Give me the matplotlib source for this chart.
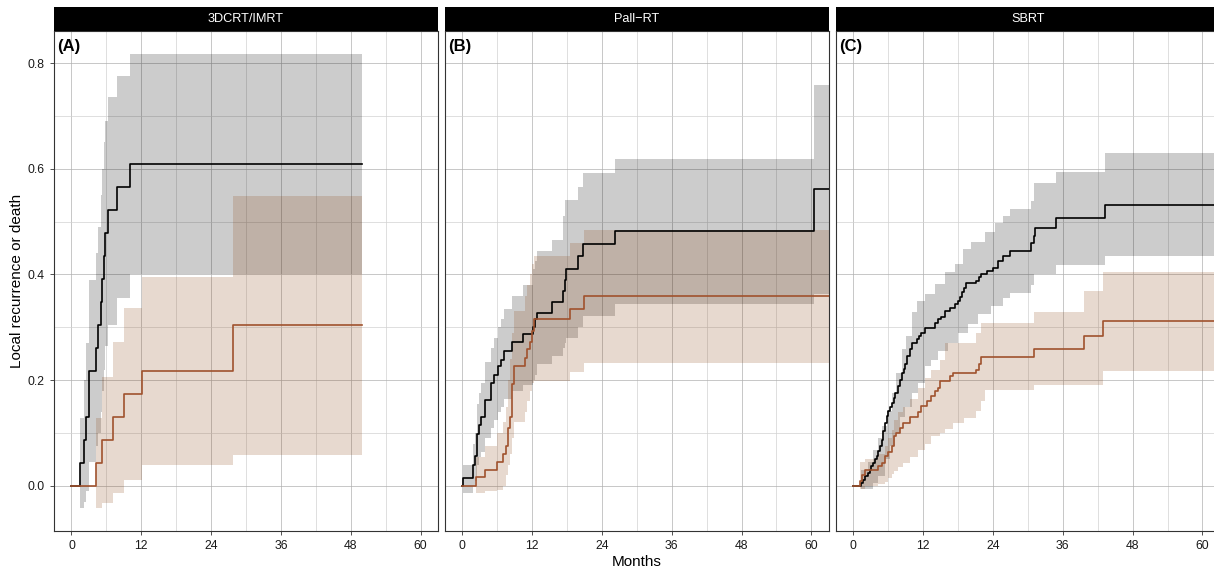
import numpy as np
import matplotlib
matplotlib.use("Agg")
import matplotlib.pyplot as plt

plt.rcParams['font.family'] = ['Liberation Sans', 'DejaVu Sans']

panels = ["3DCRT/IMRT", "Pall\u2212RT", "SBRT"]
tags = ["(A)", "(B)", "(C)"]
x_ticks = [0, 12, 24, 36, 48, 60]
y_ticks = [0.0, 0.2, 0.4, 0.6, 0.8]
y_tick_labels = ["0.0", "0.2", "0.4", "0.6", "0.8"]

# ---- panel A: 3DCRT/IMRT (curves stop at 50 months)
a_end = 50
a_t_black = [0, 1.55, 2.1, 2.5, 3.0, 4.2, 4.5, 5.0, 5.3, 5.6, 5.85, 6.25, 7.85, 10.1]
a_y_black = [0, 0.043, 0.087, 0.130, 0.217, 0.261, 0.304, 0.348, 0.391, 0.435, 0.478, 0.522, 0.565, 0.609]
a_lo_black = [0, -0.041, -0.030, -0.010, 0.045, 0.075, 0.100, 0.140, 0.180, 0.220, 0.265, 0.305, 0.355, 0.400]
a_hi_black = [0, 0.128, 0.200, 0.270, 0.390, 0.440, 0.490, 0.550, 0.600, 0.650, 0.690, 0.735, 0.776, 0.817]

a_t_brown = [0, 4.25, 5.3, 7.1, 9.0, 12.15, 27.8]
a_y_brown = [0, 0.043, 0.087, 0.130, 0.174, 0.217, 0.304]
a_lo_brown = [0, -0.041, -0.032, -0.013, 0.011, 0.039, 0.059]
a_hi_brown = [0, 0.128, 0.206, 0.273, 0.337, 0.396, 0.549]

# ---- panel B: Pall-RT (runs past the clipped x range)
b_end = 66
b_t_black = [0, 0.2, 1.9, 2.2, 2.45, 2.6, 2.9, 3.3, 3.9, 5.0, 5.4, 6.2, 6.7, 7.2, 8.5,
             10.5, 12.2, 12.5, 12.9, 15.4, 17.3, 17.6, 17.9, 19.9, 20.8, 26.2, 60.5]
b_y_black = [0, 0.0145, 0.040, 0.057, 0.080, 0.099, 0.116, 0.131, 0.163, 0.195, 0.210, 0.226, 0.239, 0.256, 0.272,
             0.288, 0.300, 0.315, 0.327, 0.348, 0.368, 0.390, 0.410, 0.434, 0.457, 0.482, 0.561]
b_lo_black = [0, -0.013, 0.0, 0.010, 0.025, 0.040, 0.055, 0.065, 0.090, 0.110, 0.125, 0.140, 0.150, 0.165, 0.180,
              0.190, 0.200, 0.210, 0.230, 0.245, 0.260, 0.270, 0.280, 0.300, 0.322, 0.344, 0.363]
b_hi_black = [0, 0.040, 0.080, 0.100, 0.130, 0.155, 0.175, 0.195, 0.235, 0.260, 0.280, 0.300, 0.315, 0.335, 0.360,
              0.380, 0.410, 0.425, 0.444, 0.466, 0.510, 0.540, 0.540, 0.566, 0.591, 0.619, 0.758]

b_t_brown = [0, 2.3, 3.9, 5.9, 7.0, 7.6, 7.9, 8.2, 8.6, 8.9, 10.7, 11.1, 11.6, 12.0, 12.3, 18.5, 21.0]
b_y_brown = [0, 0.016, 0.030, 0.045, 0.061, 0.075, 0.110, 0.130, 0.193, 0.226, 0.241, 0.258, 0.272, 0.293, 0.315, 0.335, 0.359]
b_lo_brown = [0, -0.013, -0.010, -0.007, 0.000, 0.020, 0.040, 0.060, 0.090, 0.120, 0.140, 0.160, 0.180, 0.195, 0.198, 0.215, 0.233]
b_hi_brown = [0, 0.055, 0.075, 0.100, 0.120, 0.150, 0.200, 0.240, 0.290, 0.330, 0.360, 0.380, 0.400, 0.420, 0.434, 0.459, 0.485]

# ---- panel C: SBRT (band edges read with their own break points)
c_end = 66
c_t_black = [0, 1.3, 1.7, 2.0, 2.5, 2.9, 3.1, 3.4, 3.7, 4.0, 4.3, 4.6, 4.9, 5.1, 5.4, 5.7, 6.0, 6.3, 6.6, 6.9,
             7.1, 7.7, 8.0, 8.4, 8.7, 8.9, 9.3, 9.7, 10.1, 10.9, 11.3, 11.7, 12.3, 14.0, 14.6, 15.0, 15.7, 16.6,
             17.4, 17.9, 18.3, 18.6, 19.0, 19.3, 21.1, 21.6, 22.0, 22.9, 24.0, 24.8, 25.8, 27.0, 30.6, 31.0,
             31.3, 34.8, 43.2]
c_y_black = [0, 0.006, 0.012, 0.018, 0.024, 0.030, 0.037, 0.043, 0.050, 0.056, 0.066, 0.075, 0.087, 0.103, 0.119,
             0.132, 0.141, 0.149, 0.157, 0.166, 0.176, 0.189, 0.201, 0.214, 0.222, 0.230, 0.246, 0.258, 0.271,
             0.277, 0.284, 0.290, 0.298, 0.309, 0.315, 0.320, 0.331, 0.337, 0.344, 0.350, 0.358, 0.366, 0.375,
             0.383, 0.388, 0.395, 0.400, 0.407, 0.413, 0.425, 0.434, 0.445, 0.459, 0.473, 0.487, 0.506, 0.531]
c_t_glo = [0, 1.3, 3.4, 4.3, 5.4, 6.3, 7.1, 8.0, 8.9, 10.0, 11.1, 12.3, 13.4, 14.6, 16.3, 18.0, 19.7, 21.4,
           23.7, 25.8, 27.0, 30.6, 31.1, 34.8, 43.2]
c_lo_black = [0, -0.005, 0.005, 0.018, 0.050, 0.075, 0.100, 0.130, 0.150, 0.176, 0.195, 0.227, 0.239, 0.255,
              0.271, 0.290, 0.306, 0.325, 0.340, 0.355, 0.364, 0.380, 0.400, 0.418, 0.434]
c_t_ghi = [0, 1.3, 2.5, 3.4, 4.3, 4.9, 5.7, 6.6, 7.4, 8.3, 9.1, 10.0, 10.9, 12.3, 14.0, 15.7, 17.4, 18.9,
           20.3, 22.6, 24.3, 25.8, 27.0, 30.6, 31.1, 34.8, 43.2]
c_hi_black = [0, 0.030, 0.045, 0.068, 0.090, 0.113, 0.141, 0.176, 0.214, 0.258, 0.284, 0.328, 0.350, 0.363,
              0.382, 0.404, 0.420, 0.448, 0.461, 0.480, 0.497, 0.511, 0.523, 0.539, 0.573, 0.594, 0.629]

c_t_brown = [0, 1.1, 1.4, 2.0, 4.3, 4.9, 5.4, 6.0, 6.6, 7.0, 7.4, 8.0, 8.6, 9.7, 11.1, 11.6, 12.7, 13.3,
             14.0, 14.6, 14.9, 16.6, 17.1, 21.1, 21.6, 22.0, 31.0, 39.6, 42.9]
c_y_brown = [0, 0.010, 0.020, 0.030, 0.037, 0.043, 0.056, 0.065, 0.075, 0.094, 0.100, 0.110, 0.119, 0.130,
             0.139, 0.151, 0.160, 0.170, 0.179, 0.186, 0.198, 0.208, 0.214, 0.220, 0.230, 0.244, 0.259, 0.284, 0.311]
c_t_bband = [0, 1.1, 2.0, 4.3, 5.4, 6.0, 6.6, 7.0, 7.7, 8.6, 9.7, 11.1, 12.3, 13.3, 14.9, 15.8, 17.1, 19.0,
             21.1, 22.0, 22.6, 31.0, 39.6, 42.9]
c_lo_brown = [0, -0.005, 0.000, 0.003, 0.008, 0.015, 0.022, 0.028, 0.035, 0.043, 0.055, 0.068, 0.080, 0.094,
              0.100, 0.108, 0.119, 0.128, 0.141, 0.160, 0.181, 0.190, 0.190, 0.218]
c_hi_brown = [0, 0.045, 0.050, 0.060, 0.075, 0.090, 0.105, 0.125, 0.140, 0.150, 0.165, 0.185, 0.204, 0.220,
              0.238, 0.270, 0.270, 0.270, 0.290, 0.309, 0.309, 0.328, 0.369, 0.404]

col_black = "black"
col_brown = "#8B4513"
line_brown = "#A0522D"


def step_at(t_src, v_src, t):
    # value of a right-continuous step function at times t
    idx = np.searchsorted(t_src, t, side="right") - 1
    return np.asarray(v_src)[idx]


def band(ax, t_lo, lo, t_hi, hi, end, color):
    tt = np.union1d(t_lo, t_hi)
    tt = np.append(tt, end)
    ax.fill_between(tt, step_at(t_lo, lo, tt), step_at(t_hi, hi, tt), step="post",
                    color=color, alpha=0.2, lw=0, zorder=2)


def curve(ax, t, y, end, color):
    tt = np.append(t, end)
    yy = np.append(y, y[-1])
    ax.step(tt, yy, where="post", color=color, lw=1.2, zorder=3)


W, H = 1214, 570
fig = plt.figure(figsize=(W / 100, H / 100), dpi=100)

pan_w = 384
lefts = [54, 444.8, 835.9]
top_px, bot_px = 31.3, 531
strip_top = 6.5

axes = []
for i, lx in enumerate(lefts):
    ax = fig.add_axes([lx / W, (H - bot_px) / H, pan_w / W, (bot_px - top_px) / H])
    ax.set_xlim(-3, 63)
    ax.set_ylim(-0.0854, 0.86)
    ax.set_xticks(x_ticks)
    ax.set_xticks([6, 18, 30, 42, 54], minor=True)
    ax.set_yticks(y_ticks)
    ax.set_yticks([0.1, 0.3, 0.5, 0.7], minor=True)
    ax.grid(which="major", color="#b0b0b0", lw=0.5, zorder=0)
    ax.grid(which="minor", color="#d2d2d2", lw=0.5, zorder=0)
    ax.set_axisbelow(True)
    for sp in ax.spines.values():
        sp.set_color("#333333")
        sp.set_linewidth(0.8)
    ax.tick_params(which="major", length=3, width=0.6, color="#333333", labelsize=8.8,
                   labelcolor="#1a1a1a", pad=3.5)
    ax.tick_params(which="minor", length=0)
    if i == 0:
        ax.set_yticklabels(y_tick_labels)
    else:
        ax.tick_params(axis="y", which="major", length=0, labelleft=False)
    ax.text(0.008, 0.969, tags[i], transform=ax.transAxes, ha="left", va="center",
            fontsize=12, fontweight="bold", zorder=5)

    sax = fig.add_axes([lx / W, (H - top_px) / H, pan_w / W, (top_px - strip_top) / H])
    sax.set_facecolor("black")
    sax.set_xticks([])
    sax.set_yticks([])
    for sp in sax.spines.values():
        sp.set_visible(False)
    sax.text(0.5, 0.5, panels[i], color="white", fontsize=9.2, ha="center", va="center",
             transform=sax.transAxes)
    axes.append(ax)

ax = axes[0]
band(ax, a_t_black, a_lo_black, a_t_black, a_hi_black, a_end, col_black)
band(ax, a_t_brown, a_lo_brown, a_t_brown, a_hi_brown, a_end, col_brown)
curve(ax, a_t_black, a_y_black, a_end, col_black)
curve(ax, a_t_brown, a_y_brown, a_end, line_brown)

ax = axes[1]
band(ax, b_t_black, b_lo_black, b_t_black, b_hi_black, b_end, col_black)
band(ax, b_t_brown, b_lo_brown, b_t_brown, b_hi_brown, b_end, col_brown)
curve(ax, b_t_black, b_y_black, b_end, col_black)
curve(ax, b_t_brown, b_y_brown, b_end, line_brown)

ax = axes[2]
band(ax, c_t_glo, c_lo_black, c_t_ghi, c_hi_black, c_end, col_black)
band(ax, c_t_bband, c_lo_brown, c_t_bband, c_hi_brown, c_end, col_brown)
curve(ax, c_t_black, c_y_black, c_end, col_black)
curve(ax, c_t_brown, c_y_brown, c_end, line_brown)

fig.text(17 / W, (H - 281) / H, "Local recurrence or death", rotation=90, ha="center", va="center", fontsize=11)
fig.text(637 / W, (H - 562) / H, "Months", ha="center", va="center", fontsize=11)

fig.savefig("out.png", dpi=100)
